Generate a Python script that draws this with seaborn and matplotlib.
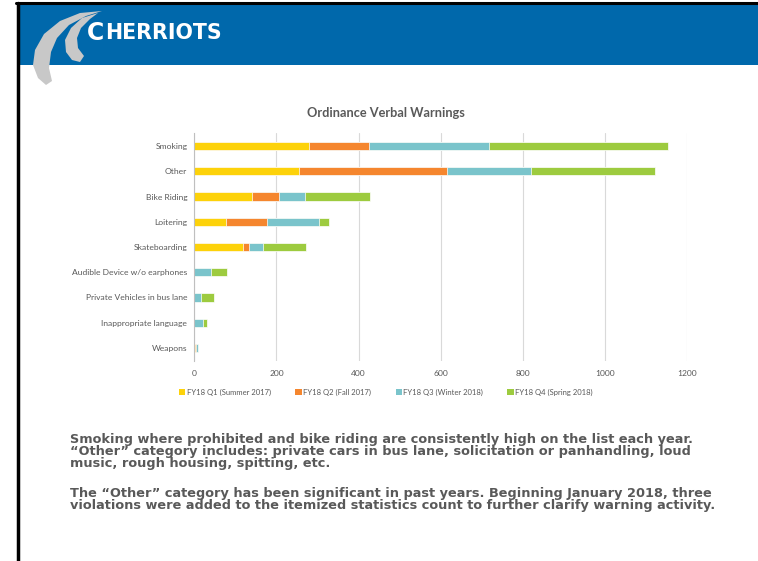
import matplotlib
matplotlib.use('Agg')
import matplotlib.pyplot as plt
from matplotlib.patches import Patch, Polygon, Rectangle
import pandas as pd
import seaborn as sns

categories = ['Smoking', 'Other', 'Bike Riding', 'Loitering', 'Skateboarding',
              'Audible Device w/o earphones', 'Private Vehicles in bus lane',
              'Inappropriate language', 'Weapons']
q1 = [280, 254, 141, 76, 119, 0, 0, 0, 1]
q2 = [146, 361, 66, 102, 14, 0, 0, 0, 4]
q3 = [292, 205, 62, 126, 34, 41, 16, 20, 4]
q4 = [436, 302, 159, 25, 106, 38, 33, 11, 1]
series_labels = ['FY18 Q1 (Summer 2017)', 'FY18 Q2 (Fall 2017)',
                 'FY18 Q3 (Winter 2018)', 'FY18 Q4 (Spring 2018)']
colors = ['#FDD20A', '#F5862E', '#7AC4CB', '#9DCB3F']
x_ticks = [0, 200, 400, 600, 800, 1000, 1200]

notes_1 = ['Smoking where prohibited and bike riding are consistently high on the list each year.',
           '\u201cOther\u201d category includes: private cars in bus lane, solicitation or panhandling, loud',
           'music, rough housing, spitting, etc.']
notes_2 = ['The \u201cOther\u201d category has been significant in past years. Beginning January 2018, three',
           'violations were added to the itemized statistics count to further clarify warning activity.']

W, H = 758, 561
text_gray = '#595959'

df = pd.DataFrame({'category': categories, 'q1': q1, 'q2': q2, 'q3': q3, 'q4': q4})
cum = df[['q1', 'q2', 'q3', 'q4']].cumsum(axis=1)
cum['category'] = df['category']

sns.set_style('white')
plt.rcParams['font.family'] = ['Lato', 'DejaVu Sans']

fig = plt.figure(figsize=(W / 100, H / 100), dpi=100)
fig.patch.set_facecolor('white')

# header / frame drawn in pixel coordinates
bg = fig.add_axes([0, 0, 1, 1])
bg.set_xlim(0, W)
bg.set_ylim(H, 0)
bg.axis('off')
bg.add_patch(Rectangle((18, 4), W - 18, 61, color='#0068AB', lw=0))
bg.plot([16, W], [3, 3], color='black', lw=2.2)
bg.plot([17.5, 17.5], [3, H], color='black', lw=2.5)
swoosh_big = [(102, 11), (80, 13), (60, 21), (44, 34), (35, 50), (33, 65), (38, 78), (46, 85),
              (52, 81), (49, 68), (51, 52), (57, 38), (69, 25), (86, 16)]
swoosh_small = [(98, 13), (82, 18), (71, 28), (65, 40), (66, 52), (72, 60), (80, 62),
                (84, 56), (78, 48), (77, 38), (81, 28), (90, 19)]
bg.add_patch(Polygon(swoosh_big, closed=True, color='#C8C8C8', lw=0))
bg.add_patch(Polygon(swoosh_small, closed=True, color='#C8C8C8', lw=0))
bg.text(87, 39.5, 'C', color='white', fontsize=17, fontweight='bold',
        family='DejaVu Sans', va='baseline', ha='left')
bg.text(105, 38.5, 'HERRIOTS', color='white', fontsize=14.8, fontweight='bold',
        family='DejaVu Sans', va='baseline', ha='left')

ax = fig.add_axes([194.3 / W, 1 - 360.6 / H, 493 / W, 227.2 / H])
for col, color in zip(['q4', 'q3', 'q2', 'q1'], colors[::-1]):
    sns.barplot(data=cum, x=col, y='category', orient='h', color=color,
                width=0.32, edgecolor='white', linewidth=0.5, ax=ax,
                saturation=1)

ax.set_xlim(0, 1200)
ax.set_xticks(x_ticks)
ax.set_xlabel('')
ax.set_ylabel('')
ax.grid(axis='x', color='#D9D9D9', lw=0.8)
ax.set_axisbelow(True)
for side in ['top', 'right', 'bottom']:
    ax.spines[side].set_visible(False)
ax.spines['left'].set_color('#BFBFBF')
ax.spines['left'].set_linewidth(0.8)
ax.tick_params(axis='both', length=0, labelsize=6.1, labelcolor=text_gray)
ax.tick_params(axis='x', pad=7)
ax.tick_params(axis='y', pad=5)

fig.text(385.5 / W, 1 - 113 / H, 'Ordinance Verbal Warnings', ha='center', va='center',
         fontsize=9.2, fontweight='bold', color=text_gray)

handles = [Patch(facecolor=c, edgecolor='none') for c in colors]
fig.legend(handles, series_labels, loc='center', bbox_to_anchor=(386 / W, 1 - 392 / H),
           ncol=4, frameon=False, fontsize=5.5, handlelength=0.8, handleheight=0.8,
           handletextpad=0.2, columnspacing=3.2, labelcolor=text_gray)

note_font = 'DejaVu Sans'
for i, line in enumerate(notes_1):
    fig.text(70 / W, 1 - (440 + 12 * i) / H, line, ha='left', va='center', fontsize=9.25,
             fontweight='bold', color=text_gray, family=note_font)
for i, line in enumerate(notes_2):
    fig.text(70 / W, 1 - (493 + 12 * i) / H, line, ha='left', va='center', fontsize=9.25,
             fontweight='bold', color=text_gray, family=note_font)

fig.savefig('out.png', dpi=100)
